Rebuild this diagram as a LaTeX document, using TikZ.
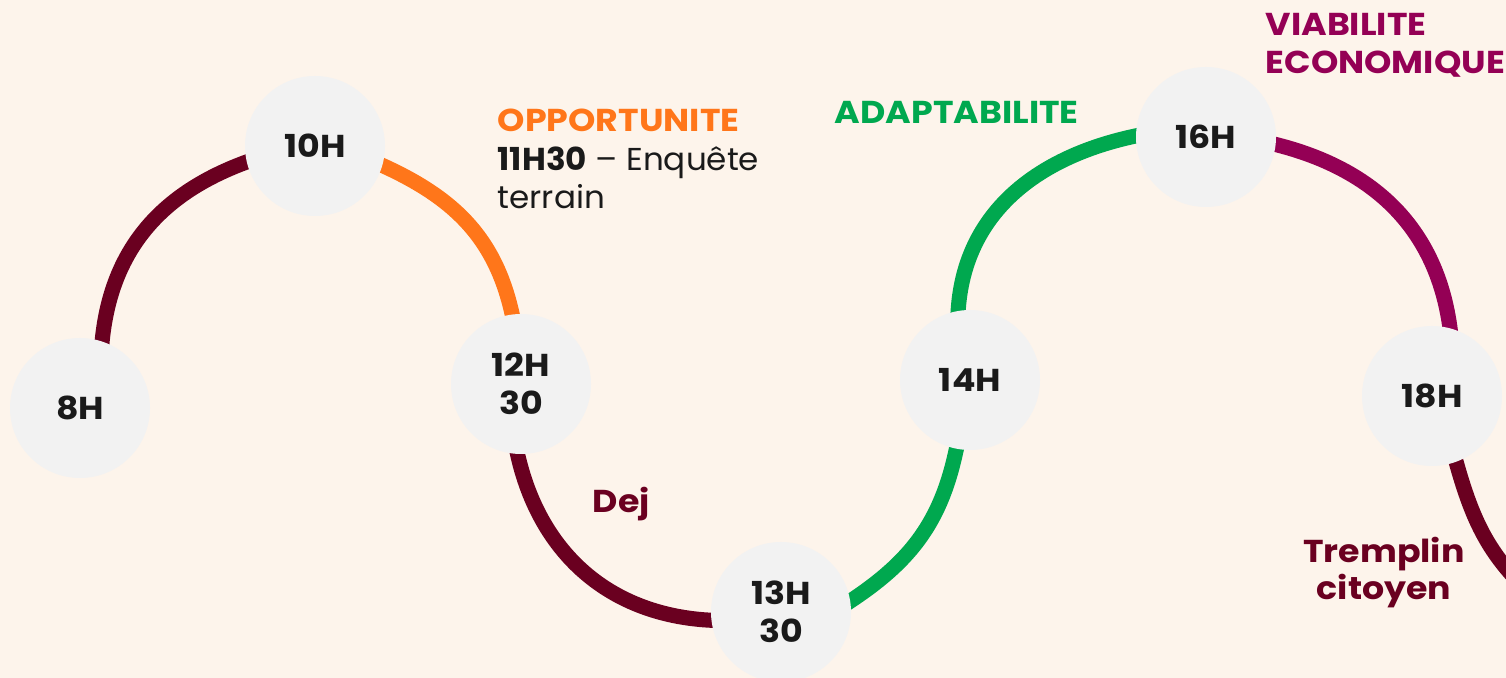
\documentclass[tikz,border=0pt]{standalone}
\usepackage{fontspec}
\setmainfont{Poppins}[FakeStretch=1.1]
\newfontfamily\notefont{Poppins}[FakeStretch=1.03]
\usetikzlibrary{backgrounds}

\definecolor{bgcream}{HTML}{FDF4EB}
\definecolor{disc}{HTML}{F2F2F2}
\definecolor{maroon}{HTML}{6A0020}
\definecolor{orangeopp}{HTML}{FF761A}
\definecolor{greenadapt}{HTML}{00A84F}
\definecolor{magentaviab}{HTML}{940055}
\definecolor{inkdark}{HTML}{1A1A1A}

\tikzset{
  hour/.style={circle, fill=disc, minimum size=1.4cm, inner sep=0pt, align=center,
               text=inkdark, font=\fontsize{9}{10.8}\selectfont\bfseries},
  link/.style={line width=4.3pt, shorten <=-4pt, shorten >=-4pt},
  tag/.style={inner sep=0pt, align=left, font=\fontsize{9}{10.7}\selectfont\bfseries}
}

\begin{document}
\begin{tikzpicture}
    \useasboundingbox (0,0) rectangle (15.06,6.78);
    \begin{scope}[on background layer]
        \fill[bgcream] (0,0) rectangle (15.06,6.78);
    \end{scope}

    % time stops
    \node[hour] (h8)  at (0.80,2.70) {8H};
    \node[hour] (h10) at (3.15,5.32) {10H};
    \node[hour] (h12) at (5.21,2.94) {12H\\30};
    \node[hour] (h13) at (7.81,0.66) {13H\\30};
    \node[hour] (h14) at (9.70,2.98) {14H};
    \node[hour] (h16) at (12.06,5.41) {16H};
    \node[hour] (h18) at (14.32,2.82) {18H};
    \coordinate (hend) at (15.35,0.80);

    % arcs between the stops
    \begin{scope}[on background layer]
        \draw[link, maroon]      (h8.72)   to[out=87, in=198]  (h10.193);
        \draw[link, orangeopp]   (h10.344) to[out=-23, in=100] (h12.97);
        \draw[link, maroon]      (h12.267) to[out=-80, in=180] (h13.187);
        \draw[link, greenadapt]  (h13.9)   to[out=32, in=260]  (h14.259);
        \draw[link, greenadapt]  (h14.100) to[out=90, in=190]  (h16.179);
        \draw[link, magentaviab] (h16.354) to[out=-12, in=95]  (h18.75);
        \draw[link, maroon]      (h18.290) to[out=-75, in=140] (hend);
    \end{scope}

    % labels
    \node[tag, anchor=north west, text=orangeopp] (opp) at (4.97,5.70) {OPPORTUNITE};
    \node[tag, anchor=north west, text=inkdark, font=\fontsize{9}{10.7}\selectfont\notefont]
        (enq) at (4.97,5.32) {\textbf{11H30} – Enquête\\terrain};
    \node[tag, anchor=north west, text=greenadapt] (adapt) at (8.34,5.77) {ADAPTABILITE};
    \node[tag, anchor=north west, text=magentaviab] (viab) at (12.65,6.65) {VIABILITE\\ECONOMIQUE};
    \node[tag, anchor=north west, text=maroon] (dej) at (5.92,1.92) {Dej};
    \node[tag, anchor=north, align=center, text=maroon] (tremp) at (13.84,1.42) {Tremplin\\citoyen};
\end{tikzpicture}
\end{document}
